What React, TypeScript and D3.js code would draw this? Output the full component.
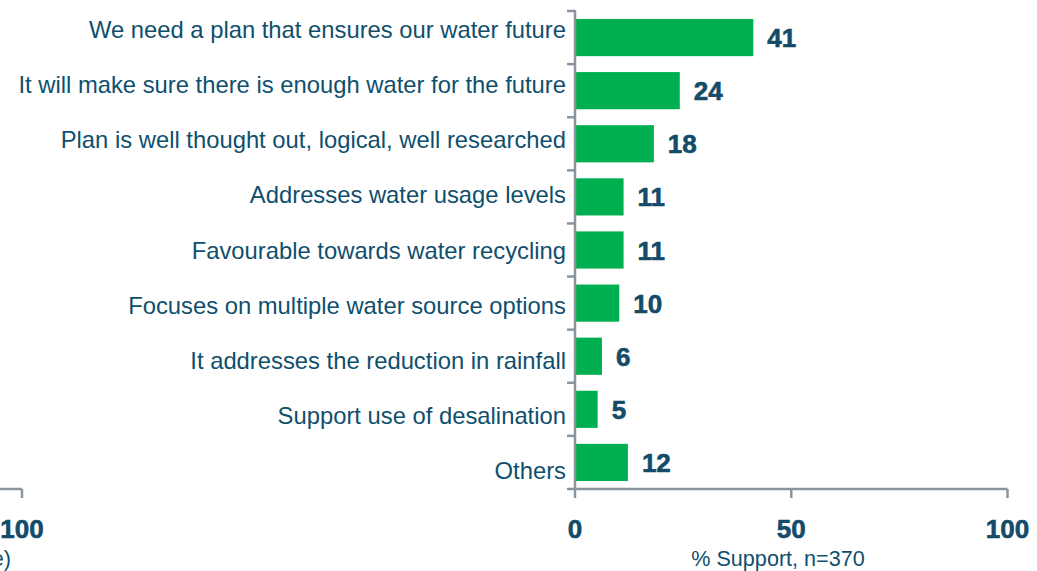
import { useEffect, useRef } from 'react'
import * as d3 from 'd3'

const categories = [
  'We need a plan that ensures our water future',
  'It will make sure there is enough water for the future',
  'Plan is well thought out, logical, well researched',
  'Addresses water usage levels',
  'Favourable towards water recycling',
  'Focuses on multiple water source options',
  'It addresses the reduction in rainfall',
  'Support use of desalination',
  'Others',
]
const values = [41, 24, 18, 11, 11, 10, 6, 5, 12]
const xTicks = [0, 50, 100]
const axisTitle = '% Support, n=370'
const leftTick = [100]
const leftTitleTail = 'e)'

const W = 1037
const H = 571
const FONT = '"Liberation Sans", Arial, sans-serif'
const TEXT = '#0f4f6d'
const VALUE = '#144b69'
const AXIS = '#8c959d'
const BAR = '#00b050'

export default function App() {
  const svgRef = useRef<SVGSVGElement | null>(null)

  useEffect(() => {
    const svg = d3.select(svgRef.current)
    svg.selectAll('*').remove()

    // ================= SCALES =================
    const x = d3.scaleLinear().domain([0, 100]).range([575, 1007.5])
    const y = d3
      .scaleBand<string>()
      .domain(categories)
      .range([11, 489])
      .paddingInner(0.3)
      .paddingOuter(0.15)
    // category labels sit on slightly wider spacing than the bars
    const labelY = d3.scalePoint<string>().domain(categories).range([38, 479])
    // left partial chart (mirrored, cut off by the page)
    const xLeft = d3.scaleLinear().domain([0, 100]).range([454, 22])

    const g = svg.append('g')

    // ================= BARS =================
    g.selectAll('.bar')
      .data(categories)
      .join('rect')
      .attr('class', 'bar')
      .attr('x', x(0) + 1)
      .attr('y', (d) => y(d) as number)
      .attr('width', (_, i) => x(values[i]) - x(0))
      .attr('height', y.bandwidth())
      .attr('fill', BAR)

    // ================= AXES =================
    const axisG = g.append('g').attr('stroke', AXIS).attr('stroke-width', 2.5).attr('fill', 'none')
    axisG.append('line').attr('x1', x(0)).attr('x2', x(0)).attr('y1', 10).attr('y2', 489)
    const bounds = d3.range(categories.length).map((i) => y.step() * i + 11)
    axisG
      .selectAll('.ytick')
      .data(bounds)
      .join('line')
      .attr('x1', x(0) - 8)
      .attr('x2', x(0))
      .attr('y1', (d) => d)
      .attr('y2', (d) => d)
    axisG.append('line').attr('x1', 567).attr('x2', x(100)).attr('y1', 489).attr('y2', 489)
    axisG
      .selectAll('.xtick')
      .data(xTicks)
      .join('line')
      .attr('x1', (d) => x(d))
      .attr('x2', (d) => x(d))
      .attr('y1', 489)
      .attr('y2', 498)

    // left partial axis
    axisG.append('line').attr('x1', 0).attr('x2', xLeft(100)).attr('y1', 489).attr('y2', 489)
    axisG
      .selectAll('.ltick')
      .data(leftTick)
      .join('line')
      .attr('x1', (d) => xLeft(d))
      .attr('x2', (d) => xLeft(d))
      .attr('y1', 489)
      .attr('y2', 498)

    // ================= LABELS =================
    g.selectAll('.cat')
      .data(categories)
      .join('text')
      .attr('x', 566)
      .attr('y', (d) => labelY(d) as number)
      .attr('text-anchor', 'end')
      .attr('font-family', FONT)
      .attr('font-size', 23.8)
      .attr('fill', TEXT)
      .text((d) => d)

    g.selectAll('.val')
      .data(categories)
      .join('text')
      .attr('x', (_, i) => x(values[i]) + 15)
      .attr('y', (d) => (y(d) as number) + y.bandwidth() / 2 + 9.5)
      .attr('font-family', FONT)
      .attr('font-size', 26)
      .attr('font-weight', 'bold')
      .attr('fill', VALUE)
      .attr('stroke', VALUE)
      .attr('stroke-width', 0.6)
      .text((_, i) => values[i])

    g.selectAll('.xlab')
      .data(xTicks)
      .join('text')
      .attr('x', (d) => x(d))
      .attr('y', 538)
      .attr('text-anchor', 'middle')
      .attr('font-family', FONT)
      .attr('font-size', 26)
      .attr('font-weight', 'bold')
      .attr('fill', VALUE)
      .attr('stroke', VALUE)
      .attr('stroke-width', 0.6)
      .text((d) => d)

    g.selectAll('.llab')
      .data(leftTick)
      .join('text')
      .attr('x', (d) => xLeft(d))
      .attr('y', 538)
      .attr('text-anchor', 'middle')
      .attr('font-family', FONT)
      .attr('font-size', 26)
      .attr('font-weight', 'bold')
      .attr('fill', VALUE)
      .attr('stroke', VALUE)
      .attr('stroke-width', 0.6)
      .text((d) => d)

    g.append('text')
      .attr('x', 778)
      .attr('y', 566)
      .attr('text-anchor', 'middle')
      .attr('font-family', FONT)
      .attr('font-size', 21.6)
      .attr('fill', TEXT)
      .text(axisTitle)

    g.append('text')
      .attr('x', 11)
      .attr('y', 566)
      .attr('text-anchor', 'end')
      .attr('font-family', FONT)
      .attr('font-size', 21.6)
      .attr('fill', TEXT)
      .text(leftTitleTail)
  }, [])

  return (
    <svg
      ref={svgRef}
      width={W}
      height={H}
      viewBox={`0 0 ${W} ${H}`}
      style={{ position: 'absolute', left: 0, top: 0, display: 'block', background: '#fff' }}
    />
  )
}
